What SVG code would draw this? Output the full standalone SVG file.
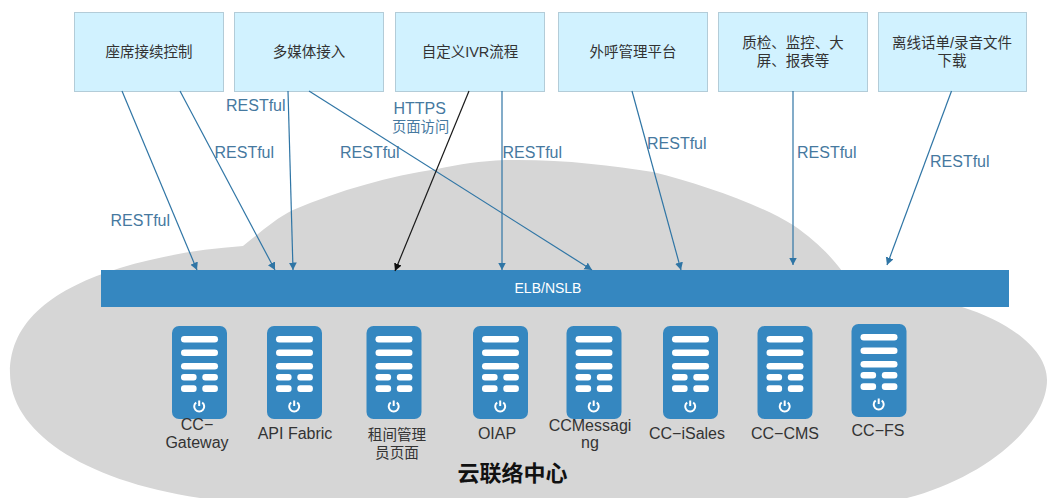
<svg xmlns="http://www.w3.org/2000/svg" width="1047" height="498" viewBox="0 0 1047 498">
<style>
text{font-family:"Liberation Sans","Noto Sans CJK SC",sans-serif}
.box{fill:#d1f2ff;stroke:#b3ccd8;stroke-width:1}
.bt{font-size:14.5px;fill:#333;text-anchor:middle}
.lb{font-size:16px;fill:#46799f}
.sv{font-size:16px;fill:#333;text-anchor:middle}
.cj{font-size:14.600px}
.ar{fill:none;stroke:#2f75a5;stroke-width:1.200;marker-end:url(#a)}
.bk{fill:none;stroke:#1a1a1a;stroke-width:1.200;marker-end:url(#b)}
</style>
<defs>
<marker id="a" markerUnits="userSpaceOnUse" markerWidth="9" markerHeight="9" refX="7.500" refY="4" orient="auto"><path d="M0 0L7.500 4L0 8Z" fill="#2f75a5"/></marker>
<marker id="b" markerUnits="userSpaceOnUse" markerWidth="9" markerHeight="9" refX="7.500" refY="4" orient="auto"><path d="M0 0L7.500 4L0 8Z" fill="#111"/></marker>
<g id="srv">
<rect width="55" height="93" rx="7" fill="#3587c0"/>
<g fill="#fff"><rect x="9" y="10" width="37" height="6.600" rx="3.300"/><rect x="9" y="23.500" width="37" height="6.600" rx="3.300"/><rect x="9" y="37" width="37" height="6.600" rx="3.300"/><rect x="9" y="48" width="15.600" height="6.600" rx="3"/><rect x="30.300" y="48" width="15.600" height="6.600" rx="3"/><rect x="9" y="59.300" width="15.600" height="6.600" rx="3"/><rect x="30.300" y="59.300" width="15.600" height="6.600" rx="3"/></g>
<path d="M24.200 76.500A5 5 0 1 0 30.200 76.500M27.200 74.500V80" fill="none" stroke="#fff" stroke-width="2"/>
</g>
</defs>
<rect width="1047" height="498" fill="#fff"/>
<path id="cloud" d="M120 268C160 256 200 249 243 246C262 231 275 219 293 210C340 190 390 176 437 169C460 164 480 161 505 160C560 159 610 165 653 172C700 184 755 202 793 225C815 240 830 255 842 271L962 307C1010 322 1047 350 1047 380C1047 425 985 478 907 498L200 498C80 480 10 430 10 373C10 320 55 288 120 268Z" fill="#d6d6d6"/>
<g id="boxes">
<g id="n1"><rect class="box" x="74.500" y="12.500" width="149" height="79"/><text class="bt" x="149" y="57">座席接续控制</text></g>
<g id="n2"><rect class="box" x="234.500" y="12.500" width="149" height="79"/><text class="bt" x="309" y="57">多媒体接入</text></g>
<g id="n3"><rect class="box" x="395.500" y="12.500" width="149" height="79"/><text class="bt" x="470" y="57">自定义IVR流程</text></g>
<g id="n4"><rect class="box" x="558.500" y="12.500" width="149" height="79"/><text class="bt" x="633" y="57">外呼管理平台</text></g>
<g id="n5"><rect class="box" x="718.500" y="12.500" width="149" height="79"/><text class="bt" x="793" y="48">质检、监控、大</text><text class="bt" x="793" y="66">屏、报表等</text></g>
<g id="n6"><rect class="box" x="878.500" y="12.500" width="148" height="79"/><text class="bt" x="952" y="48">离线话单/录音文件</text><text class="bt" x="952" y="66">下载</text></g>
</g>
<g id="elb"><rect x="101" y="270" width="908" height="37" fill="#3587c0"/><text x="548" y="293" font-size="14" fill="#fff" text-anchor="middle">ELB/NSLB</text></g>
<g id="connectors">
<path class="ar" d="M122 91L197 270"/>
<path class="ar" d="M180 91L275 270"/>
<path class="ar" d="M288 91L293 270"/>
<path class="ar" d="M309 91L592 270"/>
<path class="bk" d="M469 91L395 271"/>
<path class="ar" d="M502 91L502 270"/>
<path class="ar" d="M632 91L681 270"/>
<path class="ar" d="M793 91L793 265"/>
<path class="ar" d="M951.500 91L887 265"/>
</g>
<g id="labels">
<text class="lb" x="110.500" y="226">RESTful</text>
<text class="lb" x="214.500" y="158">RESTful</text>
<text class="lb" x="226" y="111">RESTful</text>
<text class="lb" x="340" y="158">RESTful</text>
<text class="lb" x="393.500" y="114">HTTPS</text>
<text class="lb" x="392" y="132" style="font-size:14.300px">页面访问</text>
<text class="lb" x="502.500" y="158">RESTful</text>
<text class="lb" x="647" y="149">RESTful</text>
<text class="lb" x="797" y="158">RESTful</text>
<text class="lb" x="930" y="167">RESTful</text>
</g>
<g id="s1"><use href="#srv" x="172" y="326"/><text class="sv" x="197" y="430">CC−</text><text class="sv" x="197" y="448">Gateway</text></g>
<g id="s2"><use href="#srv" x="267" y="326"/><text class="sv" x="295" y="439">API Fabric</text></g>
<g id="s3"><use href="#srv" x="366.500" y="326"/><text class="sv cj" x="397" y="440">租间管理</text><text class="sv cj" x="397" y="458">员页面</text></g>
<g id="s4"><use href="#srv" x="473" y="326"/><text class="sv" x="497" y="439">OIAP</text></g>
<g id="s5"><use href="#srv" x="566.500" y="326"/><text class="sv" x="590" y="431">CCMessagi</text><text class="sv" x="590" y="448">ng</text></g>
<g id="s6"><use href="#srv" x="663" y="326"/><text class="sv" x="687" y="439">CC−iSales</text></g>
<g id="s7"><use href="#srv" x="757.500" y="326"/><text class="sv" x="785" y="439">CC−CMS</text></g>
<g id="s8"><use href="#srv" x="851.500" y="324"/><text class="sv" x="878" y="436">CC−FS</text></g>
<text id="title" x="512.500" y="481" font-size="22" font-weight="bold" fill="#111" text-anchor="middle">云联络中心</text>
</svg>
